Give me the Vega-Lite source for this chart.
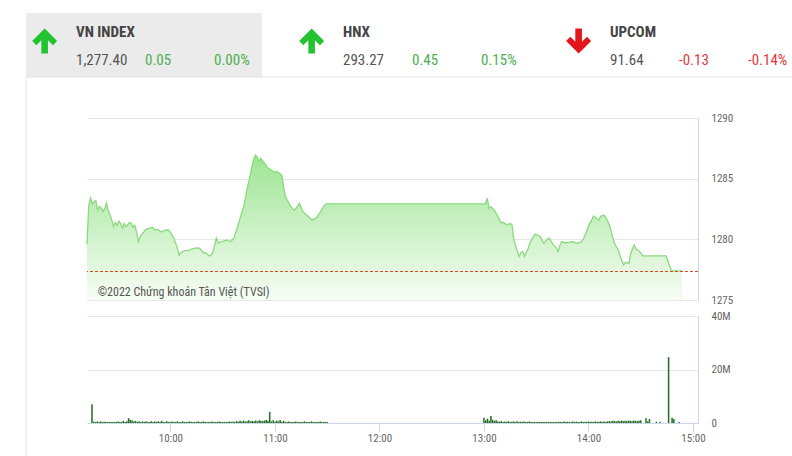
{
  "$schema": "https://vega.github.io/schema/vega-lite/v6.json",
  "padding": {"left": 25, "top": 13, "right": 0, "bottom": 0},
  "background": "white",
  "bounds": "flush",
  "spacing": 41,
  "config": {
    "view": {"stroke": null},
    "font": "Roboto Condensed, Liberation Sans Narrow, DejaVu Sans Condensed, Roboto, sans-serif"
  },
  "datasets": {
    "header": [
      {"idx": "VN INDEX", "name": "VN INDEX", "value": "1,277.40", "chg": "0.05", "pct": "0.00%", "dir": "up"},
      {"idx": "HNX", "name": "HNX", "value": "293.27", "chg": "0.45", "pct": "0.15%", "dir": "up"},
      {"idx": "UPCOM", "name": "UPCOM", "value": "91.64", "chg": "-0.13", "pct": "-0.14%", "dir": "down"}
    ],
    "price": [
      {"t": "09:15", "p": 1279.6}, {"t": "09:16", "p": 1282.8}, {"t": "09:17", "p": 1283.4}, {"t": "09:18", "p": 1282.9},
      {"t": "09:19", "p": 1283.1}, {"t": "09:20", "p": 1283.2}, {"t": "09:21", "p": 1282.4}, {"t": "09:22", "p": 1282.7},
      {"t": "09:23", "p": 1282.6}, {"t": "09:24", "p": 1282.3}, {"t": "09:25", "p": 1282.5}, {"t": "09:26", "p": 1283.0},
      {"t": "09:27", "p": 1282.4}, {"t": "09:28", "p": 1282.0}, {"t": "09:29", "p": 1281.6}, {"t": "09:30", "p": 1281.05},
      {"t": "09:31", "p": 1281.4}, {"t": "09:32", "p": 1281.15}, {"t": "09:33", "p": 1281.5}, {"t": "09:34", "p": 1281.3},
      {"t": "09:35", "p": 1280.9}, {"t": "09:36", "p": 1281.3}, {"t": "09:37", "p": 1281.05}, {"t": "09:38", "p": 1281.2},
      {"t": "09:39", "p": 1281.4}, {"t": "09:40", "p": 1281.3}, {"t": "09:41", "p": 1281.0}, {"t": "09:42", "p": 1281.15},
      {"t": "09:43", "p": 1280.6}, {"t": "09:44", "p": 1279.8}, {"t": "09:45", "p": 1280.2}, {"t": "09:46", "p": 1280.4},
      {"t": "09:47", "p": 1280.6}, {"t": "09:48", "p": 1280.8}, {"t": "09:50", "p": 1280.9}, {"t": "09:52", "p": 1281.0},
      {"t": "09:53", "p": 1280.8}, {"t": "09:55", "p": 1280.8}, {"t": "09:57", "p": 1280.6}, {"t": "09:59", "p": 1280.75},
      {"t": "10:01", "p": 1280.77}, {"t": "10:02", "p": 1280.6}, {"t": "10:04", "p": 1280.1}, {"t": "10:06", "p": 1279.3},
      {"t": "10:07", "p": 1278.7}, {"t": "10:08", "p": 1278.9}, {"t": "10:09", "p": 1279.0}, {"t": "10:11", "p": 1279.1},
      {"t": "10:12", "p": 1279.05}, {"t": "10:14", "p": 1279.2}, {"t": "10:16", "p": 1279.27}, {"t": "10:18", "p": 1279.3},
      {"t": "10:19", "p": 1279.2}, {"t": "10:21", "p": 1278.85}, {"t": "10:22", "p": 1278.9}, {"t": "10:24", "p": 1278.63},
      {"t": "10:25", "p": 1278.7}, {"t": "10:26", "p": 1278.9}, {"t": "10:27", "p": 1279.5}, {"t": "10:28", "p": 1280.09},
      {"t": "10:29", "p": 1279.7}, {"t": "10:31", "p": 1279.8}, {"t": "10:33", "p": 1279.9}, {"t": "10:34", "p": 1279.95},
      {"t": "10:36", "p": 1279.8}, {"t": "10:38", "p": 1280.1}, {"t": "10:40", "p": 1281.05}, {"t": "10:42", "p": 1282.0},
      {"t": "10:44", "p": 1282.97}, {"t": "10:45", "p": 1283.9}, {"t": "10:47", "p": 1285.17}, {"t": "10:48", "p": 1285.9},
      {"t": "10:49", "p": 1286.54}, {"t": "10:50", "p": 1286.95}, {"t": "10:51", "p": 1286.8}, {"t": "10:52", "p": 1286.4},
      {"t": "10:53", "p": 1286.68}, {"t": "10:54", "p": 1286.5}, {"t": "10:56", "p": 1286.13}, {"t": "10:57", "p": 1285.9},
      {"t": "10:59", "p": 1285.72}, {"t": "11:01", "p": 1285.5}, {"t": "11:02", "p": 1285.6}, {"t": "11:04", "p": 1285.4},
      {"t": "11:05", "p": 1285.3}, {"t": "11:06", "p": 1284.34}, {"t": "11:07", "p": 1283.52}, {"t": "11:09", "p": 1283.0},
      {"t": "11:10", "p": 1282.7}, {"t": "11:12", "p": 1282.4}, {"t": "11:13", "p": 1282.56}, {"t": "11:15", "p": 1282.97},
      {"t": "11:16", "p": 1282.6}, {"t": "11:17", "p": 1282.28}, {"t": "11:19", "p": 1282.0}, {"t": "11:20", "p": 1281.87},
      {"t": "11:22", "p": 1281.6}, {"t": "11:24", "p": 1281.7}, {"t": "11:25", "p": 1281.87}, {"t": "11:27", "p": 1282.3},
      {"t": "11:29", "p": 1282.8}, {"t": "11:30", "p": 1282.92}, {"t": "13:00", "p": 1282.92}, {"t": "13:01", "p": 1283.4},
      {"t": "13:02", "p": 1282.56}, {"t": "13:03", "p": 1282.7}, {"t": "13:05", "p": 1282.4}, {"t": "13:07", "p": 1281.9},
      {"t": "13:09", "p": 1281.33}, {"t": "13:10", "p": 1281.4}, {"t": "13:12", "p": 1281.2}, {"t": "13:14", "p": 1281.3},
      {"t": "13:15", "p": 1281.2}, {"t": "13:16", "p": 1279.95}, {"t": "13:18", "p": 1279.0}, {"t": "13:19", "p": 1278.58},
      {"t": "13:20", "p": 1278.9}, {"t": "13:21", "p": 1279.0}, {"t": "13:22", "p": 1278.6}, {"t": "13:24", "p": 1279.2},
      {"t": "13:25", "p": 1279.68}, {"t": "13:27", "p": 1280.2}, {"t": "13:28", "p": 1280.44}, {"t": "13:30", "p": 1280.3},
      {"t": "13:31", "p": 1280.22}, {"t": "13:32", "p": 1279.9}, {"t": "13:33", "p": 1279.68}, {"t": "13:35", "p": 1280.0},
      {"t": "13:36", "p": 1280.09}, {"t": "13:38", "p": 1279.6}, {"t": "13:40", "p": 1279.3}, {"t": "13:41", "p": 1279.0},
      {"t": "13:42", "p": 1279.5}, {"t": "13:43", "p": 1279.81}, {"t": "13:45", "p": 1279.7}, {"t": "13:47", "p": 1279.75},
      {"t": "13:49", "p": 1279.8}, {"t": "13:51", "p": 1279.7}, {"t": "13:52", "p": 1279.68}, {"t": "13:54", "p": 1279.8},
      {"t": "13:55", "p": 1279.95}, {"t": "13:57", "p": 1280.6}, {"t": "13:58", "p": 1281.05}, {"t": "14:00", "p": 1281.6},
      {"t": "14:01", "p": 1281.93}, {"t": "14:03", "p": 1281.7}, {"t": "14:04", "p": 1281.6}, {"t": "14:05", "p": 1281.9},
      {"t": "14:07", "p": 1282.0}, {"t": "14:08", "p": 1281.8}, {"t": "14:10", "p": 1281.19}, {"t": "14:12", "p": 1280.09},
      {"t": "14:13", "p": 1279.6}, {"t": "14:15", "p": 1279.13}, {"t": "14:16", "p": 1278.6}, {"t": "14:18", "p": 1277.89},
      {"t": "14:19", "p": 1278.1}, {"t": "14:21", "p": 1278.03}, {"t": "14:22", "p": 1278.85}, {"t": "14:24", "p": 1279.54},
      {"t": "14:25", "p": 1279.2}, {"t": "14:27", "p": 1279.0}, {"t": "14:28", "p": 1278.8}, {"t": "14:29", "p": 1278.63},
      {"t": "14:42", "p": 1278.63}, {"t": "14:45", "p": 1277.4}, {"t": "14:51", "p": 1277.4}
    ],
    "volume": [
      {"t": "09:15", "v": 7.0}, {"t": "09:16", "v": 0.5}, {"t": "09:17", "v": 0.4}, {"t": "09:18", "v": 0.6}, {"t": "09:19", "v": 0.4},
      {"t": "09:20", "v": 0.6}, {"t": "09:21", "v": 0.4}, {"t": "09:22", "v": 0.5}, {"t": "09:23", "v": 0.4}, {"t": "09:24", "v": 0.4},
      {"t": "09:25", "v": 0.4}, {"t": "09:26", "v": 0.4}, {"t": "09:27", "v": 0.4}, {"t": "09:28", "v": 0.4}, {"t": "09:29", "v": 0.4},
      {"t": "09:30", "v": 0.6}, {"t": "09:31", "v": 0.4}, {"t": "09:32", "v": 0.4}, {"t": "09:33", "v": 0.8}, {"t": "09:34", "v": 0.4},
      {"t": "09:35", "v": 0.7}, {"t": "09:36", "v": 1.8}, {"t": "09:37", "v": 1.2}, {"t": "09:38", "v": 0.9}, {"t": "09:39", "v": 0.6},
      {"t": "09:40", "v": 0.8}, {"t": "09:41", "v": 0.4}, {"t": "09:42", "v": 0.7}, {"t": "09:43", "v": 0.4}, {"t": "09:44", "v": 0.6},
      {"t": "09:45", "v": 0.4}, {"t": "09:46", "v": 0.7}, {"t": "09:47", "v": 0.4}, {"t": "09:48", "v": 0.4}, {"t": "09:49", "v": 0.7},
      {"t": "09:50", "v": 0.4}, {"t": "09:51", "v": 0.6}, {"t": "09:52", "v": 0.4}, {"t": "09:53", "v": 0.7}, {"t": "09:54", "v": 0.4},
      {"t": "09:55", "v": 0.8}, {"t": "09:56", "v": 0.4}, {"t": "09:57", "v": 0.4}, {"t": "09:58", "v": 0.7}, {"t": "09:59", "v": 0.4},
      {"t": "10:00", "v": 0.4}, {"t": "10:01", "v": 0.6}, {"t": "10:02", "v": 0.4}, {"t": "10:03", "v": 0.4}, {"t": "10:04", "v": 0.6},
      {"t": "10:05", "v": 0.4}, {"t": "10:06", "v": 0.4}, {"t": "10:07", "v": 0.6}, {"t": "10:08", "v": 0.4}, {"t": "10:09", "v": 0.4},
      {"t": "10:10", "v": 0.4}, {"t": "10:11", "v": 0.6}, {"t": "10:12", "v": 0.4}, {"t": "10:13", "v": 0.4}, {"t": "10:14", "v": 0.4},
      {"t": "10:15", "v": 0.4}, {"t": "10:16", "v": 0.6}, {"t": "10:17", "v": 0.4}, {"t": "10:18", "v": 0.4}, {"t": "10:19", "v": 0.6},
      {"t": "10:20", "v": 0.4}, {"t": "10:21", "v": 0.4}, {"t": "10:22", "v": 0.4}, {"t": "10:23", "v": 0.4}, {"t": "10:24", "v": 0.6},
      {"t": "10:25", "v": 0.4}, {"t": "10:26", "v": 0.4}, {"t": "10:27", "v": 0.4}, {"t": "10:28", "v": 0.6}, {"t": "10:29", "v": 0.4},
      {"t": "10:30", "v": 0.4}, {"t": "10:31", "v": 0.4}, {"t": "10:32", "v": 0.4}, {"t": "10:33", "v": 0.4}, {"t": "10:34", "v": 0.6},
      {"t": "10:35", "v": 0.4}, {"t": "10:36", "v": 0.6}, {"t": "10:37", "v": 0.4}, {"t": "10:38", "v": 0.7}, {"t": "10:39", "v": 0.5},
      {"t": "10:40", "v": 0.8}, {"t": "10:41", "v": 0.6}, {"t": "10:42", "v": 0.9}, {"t": "10:43", "v": 0.5}, {"t": "10:44", "v": 0.7},
      {"t": "10:45", "v": 1.0}, {"t": "10:46", "v": 0.6}, {"t": "10:47", "v": 0.8}, {"t": "10:48", "v": 0.7}, {"t": "10:49", "v": 0.9},
      {"t": "10:50", "v": 0.6}, {"t": "10:51", "v": 1.0}, {"t": "10:52", "v": 0.8}, {"t": "10:53", "v": 0.7}, {"t": "10:54", "v": 0.9},
      {"t": "10:55", "v": 1.1}, {"t": "10:56", "v": 0.8}, {"t": "10:57", "v": 4.2}, {"t": "10:58", "v": 0.6}, {"t": "10:59", "v": 1.0},
      {"t": "11:00", "v": 0.5}, {"t": "11:01", "v": 0.9}, {"t": "11:02", "v": 0.6}, {"t": "11:03", "v": 1.1}, {"t": "11:04", "v": 0.5},
      {"t": "11:05", "v": 0.8}, {"t": "11:06", "v": 0.4}, {"t": "11:07", "v": 0.4}, {"t": "11:08", "v": 0.6}, {"t": "11:09", "v": 0.4},
      {"t": "11:10", "v": 0.4}, {"t": "11:11", "v": 0.4}, {"t": "11:12", "v": 0.6}, {"t": "11:13", "v": 0.4}, {"t": "11:14", "v": 0.4},
      {"t": "11:15", "v": 0.4}, {"t": "11:16", "v": 0.4}, {"t": "11:17", "v": 0.6}, {"t": "11:18", "v": 0.4}, {"t": "11:19", "v": 0.4},
      {"t": "11:20", "v": 0.4}, {"t": "11:21", "v": 0.6}, {"t": "11:22", "v": 0.4}, {"t": "11:23", "v": 0.4}, {"t": "11:24", "v": 0.4},
      {"t": "11:25", "v": 0.4}, {"t": "11:26", "v": 0.6}, {"t": "11:27", "v": 0.4}, {"t": "11:28", "v": 0.4}, {"t": "11:29", "v": 0.4},
      {"t": "11:30", "v": 0.4},
      {"t": "13:00", "v": 2.0}, {"t": "13:01", "v": 1.0}, {"t": "13:02", "v": 1.6}, {"t": "13:03", "v": 0.8}, {"t": "13:04", "v": 2.6},
      {"t": "13:05", "v": 1.2}, {"t": "13:06", "v": 0.8}, {"t": "13:07", "v": 1.0}, {"t": "13:08", "v": 0.6}, {"t": "13:09", "v": 0.5},
      {"t": "13:10", "v": 0.7}, {"t": "13:11", "v": 0.4}, {"t": "13:12", "v": 0.6}, {"t": "13:13", "v": 0.4}, {"t": "13:14", "v": 0.7},
      {"t": "13:15", "v": 0.4}, {"t": "13:16", "v": 0.5}, {"t": "13:17", "v": 0.6}, {"t": "13:18", "v": 0.4}, {"t": "13:19", "v": 0.7},
      {"t": "13:20", "v": 0.4}, {"t": "13:21", "v": 0.5}, {"t": "13:22", "v": 0.4}, {"t": "13:23", "v": 0.6}, {"t": "13:24", "v": 0.4},
      {"t": "13:25", "v": 0.4}, {"t": "13:26", "v": 0.6}, {"t": "13:27", "v": 0.4}, {"t": "13:28", "v": 0.4}, {"t": "13:29", "v": 0.4},
      {"t": "13:30", "v": 0.4}, {"t": "13:31", "v": 0.4}, {"t": "13:32", "v": 0.4}, {"t": "13:33", "v": 0.4}, {"t": "13:34", "v": 0.4},
      {"t": "13:35", "v": 0.4}, {"t": "13:36", "v": 0.4}, {"t": "13:37", "v": 0.4}, {"t": "13:38", "v": 0.4}, {"t": "13:39", "v": 0.4},
      {"t": "13:40", "v": 0.4}, {"t": "13:41", "v": 0.4}, {"t": "13:42", "v": 0.4}, {"t": "13:43", "v": 0.5}, {"t": "13:44", "v": 0.4},
      {"t": "13:45", "v": 0.4}, {"t": "13:46", "v": 0.6}, {"t": "13:47", "v": 0.4}, {"t": "13:48", "v": 0.5}, {"t": "13:49", "v": 0.4},
      {"t": "13:50", "v": 0.4}, {"t": "13:51", "v": 0.6}, {"t": "13:52", "v": 0.4}, {"t": "13:53", "v": 0.5}, {"t": "13:54", "v": 0.4},
      {"t": "13:55", "v": 0.4}, {"t": "13:56", "v": 0.6}, {"t": "13:57", "v": 0.4}, {"t": "13:58", "v": 0.5}, {"t": "13:59", "v": 0.4},
      {"t": "14:00", "v": 0.6}, {"t": "14:01", "v": 0.4}, {"t": "14:02", "v": 0.5}, {"t": "14:03", "v": 0.4}, {"t": "14:04", "v": 0.6},
      {"t": "14:05", "v": 0.4}, {"t": "14:06", "v": 0.5}, {"t": "14:07", "v": 0.6}, {"t": "14:08", "v": 0.4}, {"t": "14:09", "v": 0.6},
      {"t": "14:10", "v": 0.5}, {"t": "14:11", "v": 0.6}, {"t": "14:12", "v": 0.7}, {"t": "14:13", "v": 0.6}, {"t": "14:14", "v": 0.8},
      {"t": "14:15", "v": 0.7}, {"t": "14:16", "v": 0.6}, {"t": "14:17", "v": 0.8}, {"t": "14:18", "v": 0.7}, {"t": "14:19", "v": 0.9},
      {"t": "14:20", "v": 0.7}, {"t": "14:21", "v": 0.8}, {"t": "14:22", "v": 0.7}, {"t": "14:23", "v": 0.9}, {"t": "14:24", "v": 0.8},
      {"t": "14:25", "v": 0.7}, {"t": "14:26", "v": 0.9}, {"t": "14:27", "v": 0.8}, {"t": "14:28", "v": 0.7}, {"t": "14:29", "v": 0.8},
      {"t": "14:30", "v": 1.0}, {"t": "14:33", "v": 1.8}, {"t": "14:34", "v": 0.6}, {"t": "14:35", "v": 1.5}, {"t": "14:39", "v": 0.5},
      {"t": "14:41", "v": 0.5}, {"t": "14:46", "v": 24.6}, {"t": "14:48", "v": 2.0}, {"t": "14:49", "v": 1.5}, {"t": "14:52", "v": 0.4}
    ]
  },
  "vconcat": [
    {
      "width": 611,
      "height": 64,
      "data": {"name": "header"},
      "encoding": {
        "x": {
          "field": "idx",
          "type": "nominal",
          "scale": {"domain": ["VN INDEX", "HNX", "UPCOM"], "range": [-61, 709], "paddingInner": 0.116, "paddingOuter": 0},
          "axis": null
        }
      },
      "layer": [
        {
          "transform": [{"filter": "datum.idx === 'VN INDEX'"}],
          "mark": {"type": "rect", "fill": "#ebebeb"},
          "encoding": {"y": {"value": 0}, "y2": {"value": "height"}}
        },
        {
          "transform": [{"filter": "datum.idx === 'VN INDEX'"}],
          "mark": {"type": "rule", "stroke": "#e4e4e4", "strokeWidth": 1},
          "encoding": {
            "x": {"field": "idx", "type": "nominal", "bandPosition": 0},
            "x2": {"datum": "UPCOM", "bandPosition": 1},
            "y": {"value": "height"}
          }
        },
        {
          "transform": [{"filter": "datum.idx === 'VN INDEX'"}],
          "mark": {"type": "rule", "stroke": "#e4e4e4", "strokeWidth": 1},
          "encoding": {
            "x": {"field": "idx", "type": "nominal", "bandPosition": 0},
            "y": {"value": "height"},
            "y2": {"value": 460}
          }
        },
        {
          "mark": {"type": "point", "filled": true, "size": 625, "opacity": 1},
          "encoding": {
            "x": {"field": "idx", "type": "nominal", "bandPosition": 0.079},
            "shape": {
              "condition": {"test": "datum.dir === 'up'", "value": "M0,-1.32L1,-0.32L0.664,0.016L0.264,-0.384L0.264,0.68L-0.264,0.68L-0.264,-0.384L-0.664,0.016L-1,-0.32Z"},
              "value": "M0,0.68L1,-0.32L0.664,-0.656L0.264,-0.256L0.264,-1.32L-0.264,-1.32L-0.264,-0.256L-0.664,-0.656L-1,-0.32Z"
            },
            "color": {"condition": {"test": "datum.dir === 'up'", "value": "#22c32e"}, "value": "#e4141b"}
          }
        },
        {
          "mark": {"type": "text", "align": "left", "baseline": "middle", "dx": 50, "dy": -13, "fontSize": 15, "fontWeight": "bold", "color": "#444444"},
          "encoding": {"x": {"field": "idx", "type": "nominal", "bandPosition": 0}, "text": {"field": "name"}}
        },
        {
          "mark": {"type": "text", "align": "left", "baseline": "middle", "dx": 50, "dy": 15, "fontSize": 15, "color": "#555555"},
          "encoding": {"x": {"field": "idx", "type": "nominal", "bandPosition": 0}, "text": {"field": "value"}}
        },
        {
          "mark": {"type": "text", "align": "left", "baseline": "middle", "dx": 119, "dy": 15, "fontSize": 15},
          "encoding": {
            "x": {"field": "idx", "type": "nominal", "bandPosition": 0},
            "text": {"field": "chg"},
            "color": {"condition": {"test": "datum.dir === 'up'", "value": "#4caf50"}, "value": "#e5383b"}
          }
        },
        {
          "mark": {"type": "text", "align": "left", "baseline": "middle", "dx": 188, "dy": 15, "fontSize": 15},
          "encoding": {
            "x": {"field": "idx", "type": "nominal", "bandPosition": 0},
            "text": {"field": "pct"},
            "color": {"condition": {"test": "datum.dir === 'up'", "value": "#4caf50"}, "value": "#e5383b"}
          }
        }
      ]
    },
    {
      "bounds": "flush",
      "spacing": 16,
      "vconcat": [
        {
          "width": 611,
          "height": 182,
          "layer": [
            {
              "data": {"name": "price", "format": {"parse": {"t": "utc:'%H:%M'"}}},
              "encoding": {
                "x": {
                  "field": "t",
                  "type": "temporal",
                  "scale": {
                    "type": "utc",
                    "domain": [
                      {"year": 1900, "month": 1, "date": 1, "hours": 9, "minutes": 15, "utc": true},
                      {"year": 1900, "month": 1, "date": 1, "hours": 15, "minutes": 0, "utc": true}
                    ]
                  },
                  "axis": null
                },
                "y": {
                  "field": "p",
                  "type": "quantitative",
                  "scale": {"domain": [1275, 1290], "zero": false, "nice": false},
                  "axis": {
                    "orient": "right", "title": null, "values": [1275, 1280, 1285, 1290], "format": "d",
                    "grid": true, "gridColor": "#e6e6e6", "domainColor": "#ccd6eb", "ticks": false,
                    "labelPadding": 13, "labelFontSize": 11, "labelColor": "#666666"
                  }
                }
              },
              "layer": [
                {
                  "mark": {
                    "type": "area",
                    "fill": {
                      "gradient": "linear", "x1": 0, "y1": 0, "x2": 0, "y2": 1,
                      "stops": [{"offset": 0, "color": "#9ee594"}, {"offset": 1, "color": "#f7fdf5"}]
                    }
                  },
                  "encoding": {"y2": {"datum": 1275}}
                },
                {
                  "mark": {"type": "line", "stroke": "#8ad97e", "strokeWidth": 1.3}
                }
              ]
            },
            {
              "data": {"values": [{"ref": 1277.35}]},
              "mark": {"type": "rule", "stroke": "#d84a1e", "strokeWidth": 1, "strokeDash": [3, 2]},
              "encoding": {"y": {"field": "ref", "type": "quantitative"}}
            },
            {
              "data": {"values": [{"label": "©2022 Chứng khoán Tân Việt (TVSI)"}]},
              "mark": {"type": "text", "align": "left", "baseline": "middle", "fontSize": 12, "color": "#555555"},
              "encoding": {
                "x": {"datum": {"year": 1900, "month": 1, "date": 1, "hours": 9, "minutes": 21, "utc": true}, "type": "temporal"},
                "y": {"datum": 1275.65, "type": "quantitative"},
                "text": {"field": "label"}
              }
            }
          ]
        },
        {
          "width": 611,
          "height": 107,
          "data": {"name": "volume", "format": {"parse": {"t": "utc:'%H:%M'"}}},
          "mark": {"type": "bar", "width": 1.5, "color": "#236e23"},
          "encoding": {
            "x": {
              "field": "t",
              "type": "temporal",
              "scale": {
                "type": "utc",
                "domain": [
                  {"year": 1900, "month": 1, "date": 1, "hours": 9, "minutes": 15, "utc": true},
                  {"year": 1900, "month": 1, "date": 1, "hours": 15, "minutes": 0, "utc": true}
                ]
              },
              "axis": {
                "title": null,
                "labelExpr": "utcFormat(datum.value, '%H:%M')",
                "values": [
                  {"year": 1900, "month": 1, "date": 1, "hours": 10, "minutes": 0, "utc": true},
                  {"year": 1900, "month": 1, "date": 1, "hours": 11, "minutes": 0, "utc": true},
                  {"year": 1900, "month": 1, "date": 1, "hours": 12, "minutes": 0, "utc": true},
                  {"year": 1900, "month": 1, "date": 1, "hours": 13, "minutes": 0, "utc": true},
                  {"year": 1900, "month": 1, "date": 1, "hours": 14, "minutes": 0, "utc": true},
                  {"year": 1900, "month": 1, "date": 1, "hours": 15, "minutes": 0, "utc": true}
                ],
                "grid": false, "domainColor": "#ccd6eb", "tickColor": "#ccd6eb", "tickSize": 8,
                "labelPadding": 1, "labelFlush": false, "labelFontSize": 11, "labelColor": "#666666"
              }
            },
            "y": {
              "field": "v",
              "type": "quantitative",
              "scale": {"domain": [0, 40], "nice": false},
              "axis": {
                "orient": "right", "title": null, "values": [0, 20, 40],
                "labelExpr": "datum.value === 0 ? '0' : datum.value + 'M'",
                "grid": true, "gridColor": "#e6e6e6", "domainColor": "#ccd6eb", "ticks": false,
                "labelPadding": 13, "labelFontSize": 11, "labelColor": "#666666"
              }
            }
          }
        }
      ]
    }
  ]
}
